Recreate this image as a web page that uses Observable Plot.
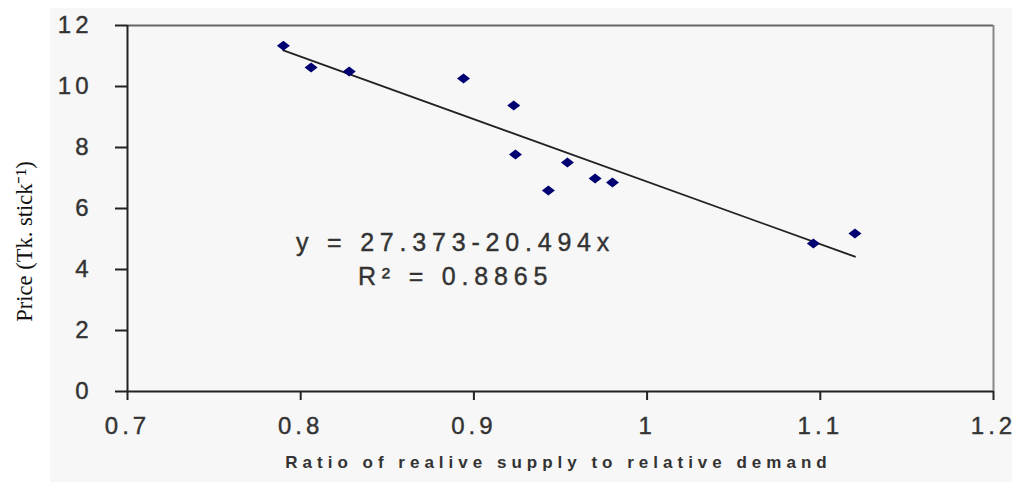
<!DOCTYPE html>
<html><head><meta charset="utf-8">
<script src="https://cdn.jsdelivr.net/npm/d3@7"></script>
<script src="https://cdn.jsdelivr.net/npm/@observablehq/plot@0.6"></script>
<style>
body{margin:0;background:#fff;}
#wrap{position:relative;width:1021px;height:483px;overflow:hidden}
#panel{position:absolute;left:50px;top:8px;width:962px;height:474px;background:#f7f7f7}
#chart{position:absolute;left:0;top:0}
</style></head><body>
<div id="wrap"><div id="panel"></div><div id="chart"></div></div>
<script>
const ratio = [0.790, 0.806, 0.828, 0.894, 0.923, 0.924, 0.943, 0.954, 0.970, 0.980, 1.096, 1.120];
const price = [11.34, 10.62, 10.49, 10.26, 9.38, 7.77, 6.59, 7.51, 6.98, 6.85, 4.85, 5.18];
const xTicks = [0.7, 0.8, 0.9, 1, 1.1, 1.2];
const yTicks = [0, 2, 4, 6, 8, 10, 12];
const intercept = 27.373;
const slope = -20.494;
const eqLabel = "y = 27.373-20.494x";
const r2Label = "R² = 0.8865";
const xLabel = "Ratio of realive supply to relative demand";
const yLabel = "Price (Tk. stick⁻¹)";

const points = ratio.map((r, i) => ({x: r, y: price[i]}));
const trend = d3.extent(ratio).map(x => ({x, y: intercept + slope * x}));

const flatDiamond = {
  draw(ctx) {
    ctx.moveTo(-6.5, 0); ctx.lineTo(0, -5); ctx.lineTo(6.5, 0); ctx.lineTo(0, 5); ctx.closePath();
  }
};

const sans = "'Liberation Sans', Arial, sans-serif";
const chart = Plot.plot({
  width: 1021, height: 483,
  marginLeft: 127, marginRight: 28, marginTop: 25, marginBottom: 92,
  style: {background: "transparent", fontFamily: sans, color: "#333"},
  x: {domain: [0.7, 1.2]},
  y: {domain: [0, 12]},
  marks: [
    Plot.ruleY([12], {stroke: "#666", strokeWidth: 2}),
    Plot.ruleX([1.2], {stroke: "#888", strokeWidth: 2}),
    Plot.axisX({ticks: xTicks, tickFormat: d => String(d), tickSize: 9, tickPadding: 16, fontSize: 24, stroke: "#222", strokeWidth: 2, label: null}),
    Plot.axisY({ticks: yTicks, tickFormat: d => String(d), tickSize: 12, tickPadding: 23, fontSize: 24, stroke: "#222", strokeWidth: 2, label: null}),
    Plot.ruleY([0], {stroke: "#222", strokeWidth: 2}),
    Plot.ruleX([0.7], {stroke: "#222", strokeWidth: 2}),
    Plot.line(trend, {x: "x", y: "y", stroke: "#222", strokeWidth: 1.8}),
    Plot.dot(points, {x: "x", y: "y", symbol: flatDiamond, fill: "#000070", stroke: "none"}),
    Plot.text([eqLabel], {x: 0.8894, y: 4.885, text: d => d, fontSize: 25, fill: "#333", textAnchor: "middle", lineAnchor: "middle"}),
    Plot.text([r2Label], {x: 0.8894, y: 3.77, text: d => d, fontSize: 25, fill: "#333", textAnchor: "middle", lineAnchor: "middle"}),
    Plot.text([xLabel], {frameAnchor: "bottom", dy: 71, dx: -2, text: d => d, fontSize: 17, fontWeight: "bold", fill: "#333", lineAnchor: "middle"}),
    Plot.text([yLabel], {frameAnchor: "left", dx: -103, dy: 33, rotate: -90, text: d => d, fontSize: 22.5, fontFamily: "'Liberation Serif', 'Times New Roman', serif", fill: "#111", textAnchor: "middle", lineAnchor: "middle"})
  ]
});
document.getElementById("chart").appendChild(chart);
chart.querySelectorAll('g[aria-label="x-axis tick label"], g[aria-label="y-axis tick label"]').forEach(g => {
  g.style.letterSpacing = "4px"; g.style.fill = "#333"; g.style.stroke = "#333"; g.style.strokeWidth = "0.4px";
});
const texts = chart.querySelectorAll('g[aria-label="text"]');
[0, 1].forEach(i => { if (texts[i]) { texts[i].style.letterSpacing = "5.8px"; texts[i].style.stroke = "#333"; texts[i].style.strokeWidth = "0.4px"; } });
if (texts[2]) texts[2].style.letterSpacing = "5px";
</script>
</body></html>
